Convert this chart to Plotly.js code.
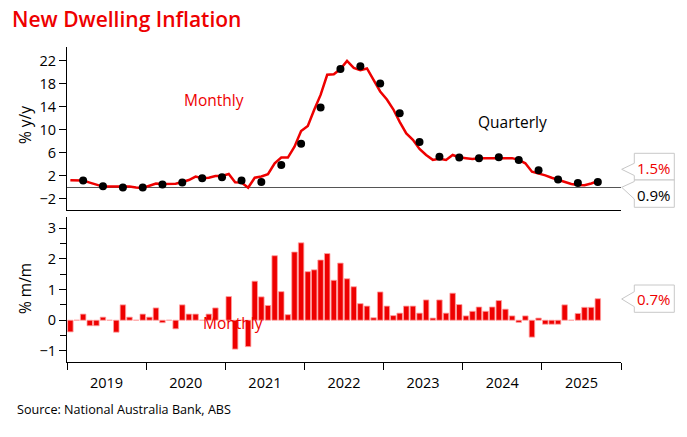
<!DOCTYPE html>
<html>
<head>
<meta charset="utf-8">
<script src="https://cdn.plot.ly/plotly-3.0.1.min.js"></script>
<style>html,body{margin:0;padding:0;background:#fff;}#chart{width:687px;height:437px;}</style>
</head>
<body>
<div id="chart"></div>
<script>
// ---- Data ----
const startYear = 2019;
const monthCount = 81; // Jan 2019 .. Sep 2025

// Monthly % m/m change (bars)
const mmChange = [
  -0.38, 0, 0.2, -0.18, -0.18, 0.1, 0, -0.39, 0.5, 0.1, 0, 0.2,
  0.1, 0.4, -0.08, 0, -0.28, 0.5, 0.2, 0.2, 0, 0.2, 0.4, 0,
  0.77, -0.94, 0, -0.86, 1.27, 0.76, 0.48, 2.1, 0.93, 0.18, 2.22, 2.52,
  1.58, 1.64, 1.96, 2.17, 1.3, 1.86, 1.35, 1.09, 0.54, 0.46, 0.08, 0.92,
  0.46, 0.15, 0.23, 0.46, 0.46, 0.23, 0.66, 0.07, 0.66, 0.23, 0.88, 0.51,
  0.14, 0.29, 0.43, 0.29, 0.43, 0.64, 0.36, 0.14, -0.07, 0.14, -0.55, 0.07,
  -0.13, -0.13, -0.13, 0.5, 0, 0.22, 0.42, 0.42, 0.7
];

// Monthly % y/y (red line)
const yyMonthly = [
  1.25, 1.25, 1.2, 0.85, 0.45, 0.15, 0.15, 0.15, 0.1, 0.15, 0.0, -0.1,
  0.3, 0.7, 0.6, 0.65, 0.65, 0.95, 1.3, 1.9, 1.6, 1.7, 2.0, 2.0,
  2.35, 0.9, 0.85, -0.05, 1.7, 1.9, 2.3, 4.2, 5.2, 5.2, 7.1, 9.8,
  10.7, 13.5, 16.1, 19.6, 19.7, 20.6, 22.0, 20.8, 20.4, 20.7, 18.7, 16.7,
  15.3, 13.6, 11.4, 9.4, 8.3, 6.7, 5.65, 4.8, 5.0, 4.8, 5.65, 5.25,
  5.1, 4.95, 5.1, 5.1, 5.1, 5.2, 5.2, 5.1, 4.8, 4.2, 2.75, 2.45,
  2.1, 1.7, 1.3, 1.0, 0.6, 0.45, 0.4, 0.7, 1.1
];

// Quarterly % y/y (black dots), quarter-end months
const qtrDates = [
  "2019-03","2019-06","2019-09","2019-12",
  "2020-03","2020-06","2020-09","2020-12",
  "2021-03","2021-06","2021-09","2021-12",
  "2022-03","2022-06","2022-09","2022-12",
  "2023-03","2023-06","2023-09","2023-12",
  "2024-03","2024-06","2024-09","2024-12",
  "2025-03","2025-06","2025-09"
];
const yyQuarterly = [
  1.2, 0.2, 0.0, 0.0,
  0.5, 0.85, 1.6, 1.8,
  1.2, 0.95, 3.9, 7.6,
  13.9, 20.6, 21.1, 18.1,
  12.9, 7.9, 5.35, 5.2,
  5.1, 5.25, 4.8, 3.0,
  1.4, 0.8, 0.95
];

const calloutLabels = ["1.5%", "0.9%", "0.7%"];
const titleText = "New Dwelling Inflation";
const sourceText = "Source: National Australia Bank, ABS";

// ---- Build month categories ----
const months = [];
for (let i = 0; i < monthCount; i++) {
  const y = startYear + Math.floor(i / 12);
  const m = (i % 12) + 1;
  months.push(y + "-" + (m < 10 ? "0" + m : m));
}

const RED = "#ee0000";
const FONT = "Open Sans, sans-serif";

// ---- Layout geometry helpers (pixel -> paper) ----
const W = 687, H = 437;
const M = {l: 67, r: 66, t: 47, b: 75};
const PW = W - M.l - M.r, PH = H - M.t - M.b;
const px = x => (x - M.l) / PW;
const py = y => (H - M.b - y) / PH;

function calloutPath(left, right, top, bottom, tipX, tipY, a1, a2) {
  return "M " + px(left) + " " + py(top) +
    " L " + px(right) + " " + py(top) +
    " L " + px(right) + " " + py(bottom) +
    " L " + px(left) + " " + py(bottom) +
    " L " + px(left) + " " + py(a2) +
    " L " + px(tipX) + " " + py(tipY) +
    " L " + px(left) + " " + py(a1) + " Z";
}

const traces = [
  {
    type: "scatter", mode: "lines", name: "Monthly y/y",
    x: months, y: yyMonthly, xperiod: "M1", xperiodalignment: "middle",
    line: {color: RED, width: 2.5}, xaxis: "x", yaxis: "y",
    hoverinfo: "skip"
  },
  {
    type: "scatter", mode: "markers", name: "Quarterly y/y",
    x: qtrDates, y: yyQuarterly, xperiod: "M1", xperiodalignment: "middle",
    marker: {color: "#000", size: 8}, xaxis: "x", yaxis: "y",
    hoverinfo: "skip"
  },
  {
    type: "bar", name: "Monthly m/m",
    x: months, y: mmChange, xperiod: "M1", xperiodalignment: "middle",
    marker: {color: RED, line: {color: "rgba(255,160,160,1)", width: 0.8}},
    xaxis: "x2", yaxis: "y2", hoverinfo: "skip"
  }
];

const shapes = [
  {type: "path", xref: "paper", yref: "paper", layer: "above",
   path: calloutPath(634.3, 674.3, 153.3, 180, 621.7, 169.3, 163.3, 175.5),
   line: {color: "#c8c8c8", width: 1}, fillcolor: "#fff"},
  {type: "path", xref: "paper", yref: "paper", layer: "above",
   path: calloutPath(634.3, 674.3, 180, 207.3, 621.7, 187.3, 181.5, 199),
   line: {color: "#c8c8c8", width: 1}, fillcolor: "#fff"},
  {type: "path", xref: "paper", yref: "paper", layer: "above",
   path: calloutPath(634.3, 674.3, 285, 312.3, 621.7, 299, 291.7, 306.7),
   line: {color: "#c8c8c8", width: 1}, fillcolor: "#fff"}
];

const ann = (text, x, y, color, size, extra) => Object.assign({
  text: text, xref: "paper", yref: "paper", x: px(x), y: py(y),
  xanchor: "center", yanchor: "middle", showarrow: false,
  font: {family: FONT, size: size, color: color}
}, extra || {});

const annotations = [
  ann("Monthly", 214, 100, RED, 15.5),
  ann("Quarterly", 512, 122, "#000", 15.5),
  ann("Monthly", 233, 323, RED, 15.5),
  ann(calloutLabels[0], 654.3, 167.5, RED, 15),
  ann(calloutLabels[1], 654.3, 194.5, "#000", 15),
  ann(calloutLabels[2], 654.3, 299, RED, 15),
  ann("% y/y", 25, 125, "#000", 15.5, {textangle: -90}),
  ann("% m/m", 25, 289, "#000", 15.5, {textangle: -90}),
  ann(sourceText, 15, 410, "#000", 12.6, {xanchor: "left"})
];

const xCommon = {
  type: "date",
  range: ["2019-01-01", "2026-01-01"],
  showgrid: false, zeroline: false,
  showline: true, linecolor: "#000", linewidth: 1.3,
  tick0: "2019-01-01", dtick: "M12"
};

const layout = {
  width: W, height: H,
  margin: M,
  paper_bgcolor: "#fff", plot_bgcolor: "#fff",
  showlegend: false,
  bargap: 0.14,
  font: {family: FONT, size: 14.5, color: "#000"},
  title: {
    text: titleText, x: 12 / W, xanchor: "left", xref: "container",
    y: 1 - 20 / H, yanchor: "middle", yref: "container",
    font: {family: FONT, size: 21, color: RED, weight: 600}
  },
  xaxis: Object.assign({}, xCommon, {
    anchor: "y", showticklabels: false, ticks: ""
  }),
  xaxis2: Object.assign({}, xCommon, {
    anchor: "y2", matches: "x",
    ticks: "outside", ticklen: 7, tickcolor: "#000", tickwidth: 1,
    ticklabelmode: "period", tickformat: "%Y",
    tickfont: {family: FONT, size: 14.5, color: "#000"}
  }),
  yaxis: {
    domain: [py(209.5), 1],
    range: [-3.83, 24.43],
    tickvals: [-2, 2, 6, 10, 14, 18, 22],
    ticks: "outside", ticklen: 7, tickcolor: "#000", tickwidth: 1,
    showline: true, linecolor: "#000", linewidth: 1,
    showgrid: false,
    zeroline: true, zerolinecolor: "#555", zerolinewidth: 1,
    tickfont: {family: FONT, size: 14.5, color: "#000"}
  },
  yaxis2: {
    domain: [0, py(217)],
    range: [-1.36, 3.36],
    tickvals: [-1, 0, 1, 2, 3],
    ticks: "outside", ticklen: 7, tickcolor: "#000", tickwidth: 1,
    minor: {dtick: 0.5, tick0: 0, ticks: "outside", ticklen: 6, tickcolor: "#000", showgrid: false},
    showline: true, linecolor: "#000", linewidth: 1,
    showgrid: false, zeroline: false,
    tickfont: {family: FONT, size: 14.5, color: "#000"}
  },
  shapes: shapes,
  annotations: annotations
};

Plotly.newPlot("chart", traces, layout, {displayModeBar: false, staticPlot: true});
</script>
</body>
</html>
